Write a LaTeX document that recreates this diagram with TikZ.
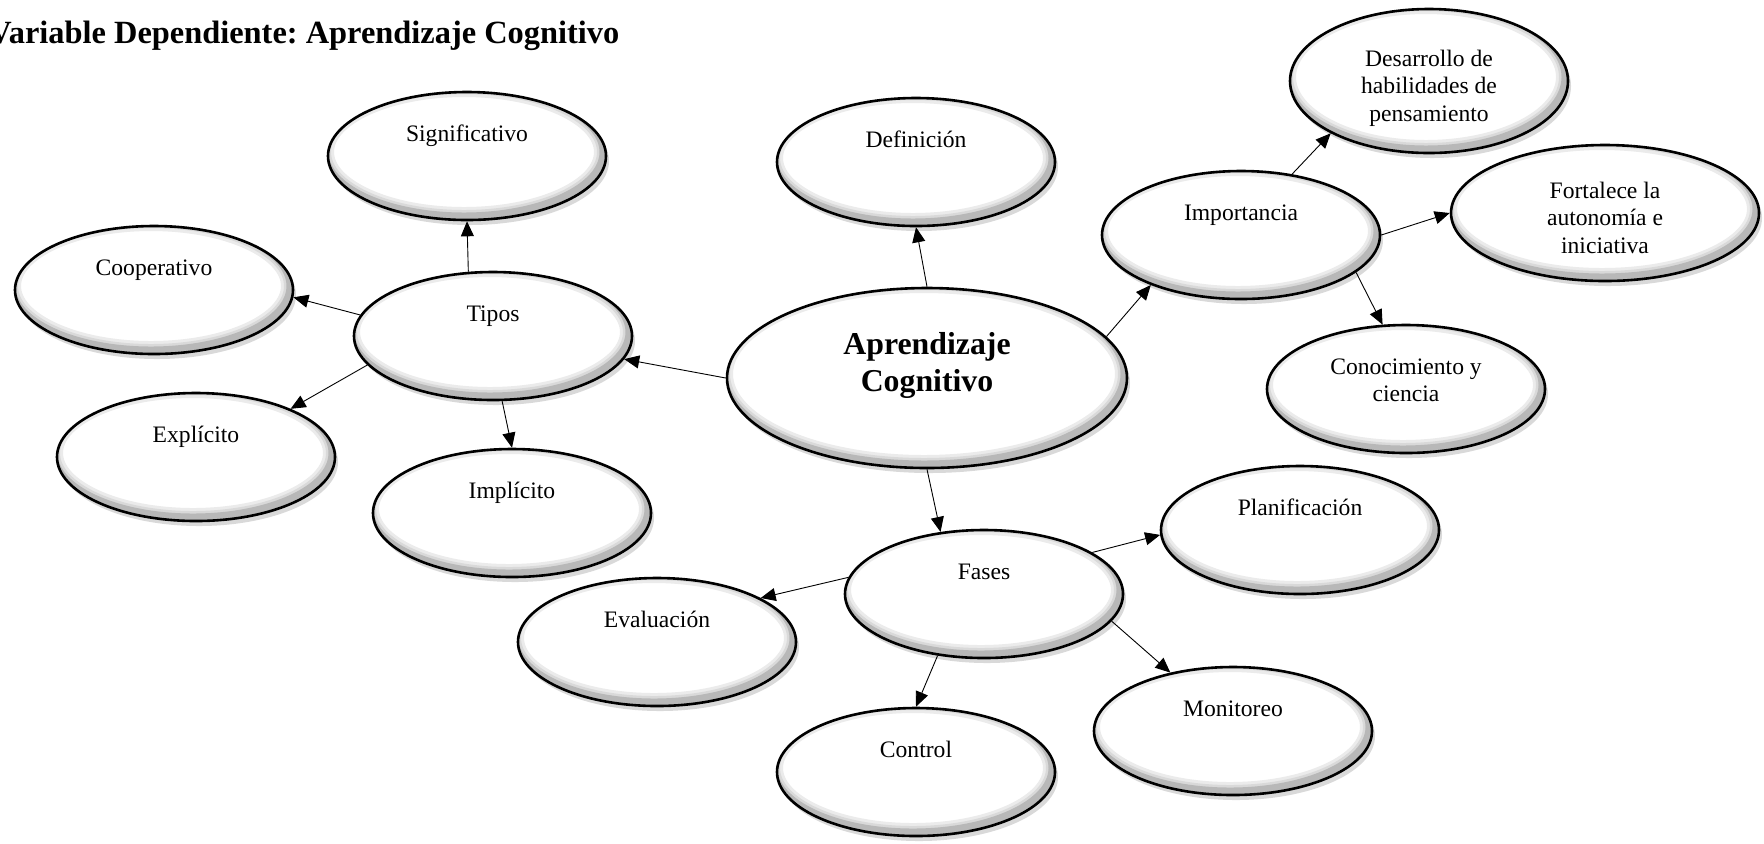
\documentclass[tikz,border=0pt]{standalone}
\usepackage{fontspec}
\setmainfont{Liberation Serif}
\usetikzlibrary{shapes.geometric,shadows,arrows.meta,calc}
\newcommand{\globo}[2][34pt]{\parbox[c][#1][t]{92pt}{\centering\strut #2}}

\begin{document}
\begin{tikzpicture}[x=0.5pt,y=-0.5pt,
    concepto/.style ={ellipse, draw, line width=1.3pt, fill=white, inner sep=0pt,
      minimum width=139pt, minimum height=64pt,
      font=\fontsize{11.8}{13.8}\selectfont,
      drop shadow={shadow xshift=1.5pt, shadow yshift=-2.5pt, opacity=0.3},
      path picture={\foreach \w/\c in {9/8,6/15,3.5/28}
        {\draw[black!\c, line width=\w pt]
          let \p1=(path picture bounding box.north east), \p2=(path picture bounding box.center)
          in ([xshift=-1.5pt,yshift=2pt]\p2) ellipse ({\x1-\x2} and {\y1-\y2});}}},
    flecha/.style ={line width=0.45pt, -{Triangle[length=7.5pt,width=6.5pt]}}]
   \useasboundingbox (0,0) rectangle (1764,843);
   \node[anchor=base west, inner sep=0pt, font=\fontsize{16.2}{18}\selectfont\bfseries\frenchspacing]
     (titulo) at (-12,43) {Variable Dependiente: Aprendizaje Cognitivo};
   % concepto central
   \node[concepto, minimum width=200pt, minimum height=90pt,
     font=\fontsize{15.9}{18.6}\selectfont\bfseries] (central) at (927,378)
     {\parbox[c][50pt][t]{100pt}{\centering\strut Aprendizaje\\ Cognitivo}};
   \node[concepto] (definicion)  at (916,162)  {\globo{Definición}};
   \node[concepto] (tipos)       at (493,336)  {\globo{Tipos}};
   \node[concepto] (importancia) at (1241,235) {\globo{Importancia}};
   \node[concepto] (fases)       at (984,594)  {\globo{Fases}};
   % tipos
   \node[concepto] (significativo) at (467,156) {\globo{Significativo}};
   \node[concepto] (cooperativo)   at (154,290) {\globo{Cooperativo}};
   \node[concepto] (explicito)     at (196,457) {\globo{Explícito}};
   \node[concepto] (implicito)     at (512,513) {\globo{Implícito}};
   % importancia
   \node[concepto, minimum height=72pt] (desarrollo) at (1429,81)
     {\globo{Desarrollo de\\ habilidades de\\ pensamiento}};
   \node[concepto, minimum width=154pt, minimum height=68pt] (autonomia) at (1605,213)
     {\globo{Fortalece la\\ autonomía e\\ iniciativa}};
   \node[concepto] (conocimiento) at (1406,389) {\globo{Conocimiento y\\ ciencia}};
   % fases
   \node[concepto] (planificacion) at (1300,530) {\globo{Planificación}};
   \node[concepto] (evaluacion)    at (657,642)  {\globo{Evaluación}};
   \node[concepto] (monitoreo)     at (1233,731) {\globo{Monitoreo}};
   \node[concepto] (control)       at (916,772)  {\globo{Control}};
   % flechas
   \draw[flecha] (central.north) to (definicion.south);
   \draw[flecha] (central.west) to (tipos.350);
   \draw[flecha] (central.13) to (importancia.209);
   \draw[flecha] (central.south) to (fases.125);
   \draw[flecha] (tipos.111) to (significativo.south);
   \draw[flecha] (tipos.171) to (cooperativo.357);
   \draw[flecha] (tipos.193) to (explicito.27);
   \draw[flecha] (tipos.278) to (implicito.north);
   \draw[flecha] (importancia.50) to (desarrollo.208);
   \draw[flecha] (importancia.east) to (autonomia.west);
   \draw[flecha] (importancia.342) to (conocimiento.110);
   \draw[flecha] (fases.21) to (planificacion.182);
   \draw[flecha] (fases.173) to (evaluacion.23);
   \draw[flecha] (fases.348) to (monitoreo.137);
   \draw[flecha] (fases.233) to (control.north);
\end{tikzpicture}
\end{document}
